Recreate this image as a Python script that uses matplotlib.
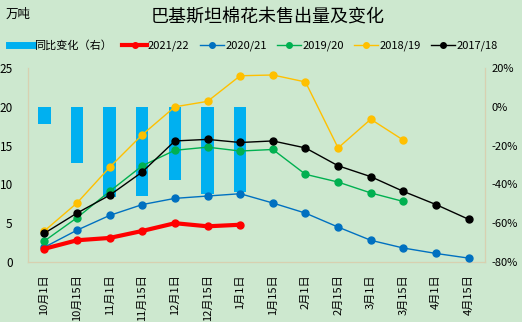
import numpy as np
import matplotlib
matplotlib.use('Agg')
import matplotlib.pyplot as plt
from matplotlib.lines import Line2D

plt.rcParams['font.family'] = ['Noto Sans CJK SC', 'DejaVu Sans']

dates = ['10月1日', '10月15日', '11月1日', '11月15日', '12月1日', '12月15日', '1月1日',
         '1月15日', '2月1日', '2月15日', '3月1日', '3月15日', '4月1日', '4月15日']

s2122 = [1.7, 2.8, 3.1, 4.0, 5.0, 4.6, 4.8]
s2021 = [1.9, 4.1, 6.0, 7.4, 8.2, 8.5, 8.8, 7.6, 6.3, 4.5, 2.8, 1.8, 1.1, 0.5]
s1920 = [2.7, 5.7, 9.1, 12.4, 14.4, 14.8, 14.3, 14.5, 11.3, 10.3, 8.9, 7.8]
s1819 = [4.0, 7.6, 12.2, 16.4, 20.0, 20.7, 24.0, 24.1, 23.2, 14.7, 18.4, 15.7]
s1718 = [3.7, 6.3, 8.6, 11.6, 15.6, 15.8, 15.4, 15.6, 14.7, 12.4, 11.0, 9.1, 7.4, 5.5]
yoy = [-9.1, -29.1, -46.6, -46.1, -37.9, -44.8, -44.1]   # %

bg = '#CDE8CF'
spine_c = '#D8D0B0'

fig = plt.figure(figsize=(5.22, 3.22), dpi=100, facecolor=bg)
ax = fig.add_axes([28/522, 1-262/322, (485-28)/522, (262-68)/322])
ax2 = ax.twinx()
# lines above the bars
ax.set_zorder(ax2.get_zorder() + 1)
ax.patch.set_visible(False)
ax2.set_facecolor(bg)

x = np.arange(len(dates))
ax2.bar(x[:len(yoy)], yoy, width=0.38, color='#00B0F0', zorder=2)

ax.plot(x[:len(s2122)], s2122, color='#FF0000', lw=3, marker='o', ms=5, zorder=6)
ax.plot(x[:len(s2021)], s2021, color='#0070C0', lw=1, marker='o', ms=5, zorder=5)
ax.plot(x[:len(s1920)], s1920, color='#00B050', lw=1, marker='o', ms=5, zorder=5)
ax.plot(x[:len(s1819)], s1819, color='#FFC000', lw=1, marker='o', ms=5, zorder=5)
ax.plot(x[:len(s1718)], s1718, color='#000000', lw=1, marker='o', ms=5, zorder=5)

ax.set_xlim(-0.5, len(dates) - 0.5)
ax.set_ylim(0, 25)
ax.set_yticks([0, 5, 10, 15, 20, 25])
ax2.set_ylim(-80, 20)
ax2.set_yticks([20, 0, -20, -40, -60, -80])
ax2.set_yticklabels(['%d%%' % v for v in [20, 0, -20, -40, -60, -80]])
ax.set_xticks(x)
ax.set_xticklabels(dates, rotation=90, fontsize=8)

for a in (ax, ax2):
    a.tick_params(length=0, labelsize=8.5)
    a.spines['top'].set_visible(False)
    for s in ('left', 'right', 'bottom'):
        a.spines[s].set_color(spine_c)
ax.tick_params(axis='y', pad=11)
ax.tick_params(axis='x', pad=9, labelsize=8)
ax2.tick_params(axis='y', pad=5, labelsize=8)

fig.text(0.512, 0.945, '巴基斯坦棉花未售出量及变化', ha='center', va='center', fontsize=13)
fig.text(0.01, 0.955, '万吨', ha='left', va='center', fontsize=9)

handles = [
    Line2D([0], [0], color='#00B0F0', lw=5),
    Line2D([0], [0], color='#FF0000', lw=3, marker='o', ms=4),
    Line2D([0], [0], color='#0070C0', lw=1, marker='o', ms=4),
    Line2D([0], [0], color='#00B050', lw=1, marker='o', ms=4),
    Line2D([0], [0], color='#FFC000', lw=1, marker='o', ms=4),
    Line2D([0], [0], color='#000000', lw=1, marker='o', ms=4),
]
labels = ['同比变化（右）', '2021/22', '2020/21', '2019/20', '2018/19', '2017/18']
fig.legend(handles, labels, loc='center', bbox_to_anchor=(0.485, 0.858), ncol=6,
           frameon=False, fontsize=8, handlelength=2.2, handletextpad=0.1,
           columnspacing=0.9)

fig.savefig('out.png', dpi=100, facecolor=bg)
